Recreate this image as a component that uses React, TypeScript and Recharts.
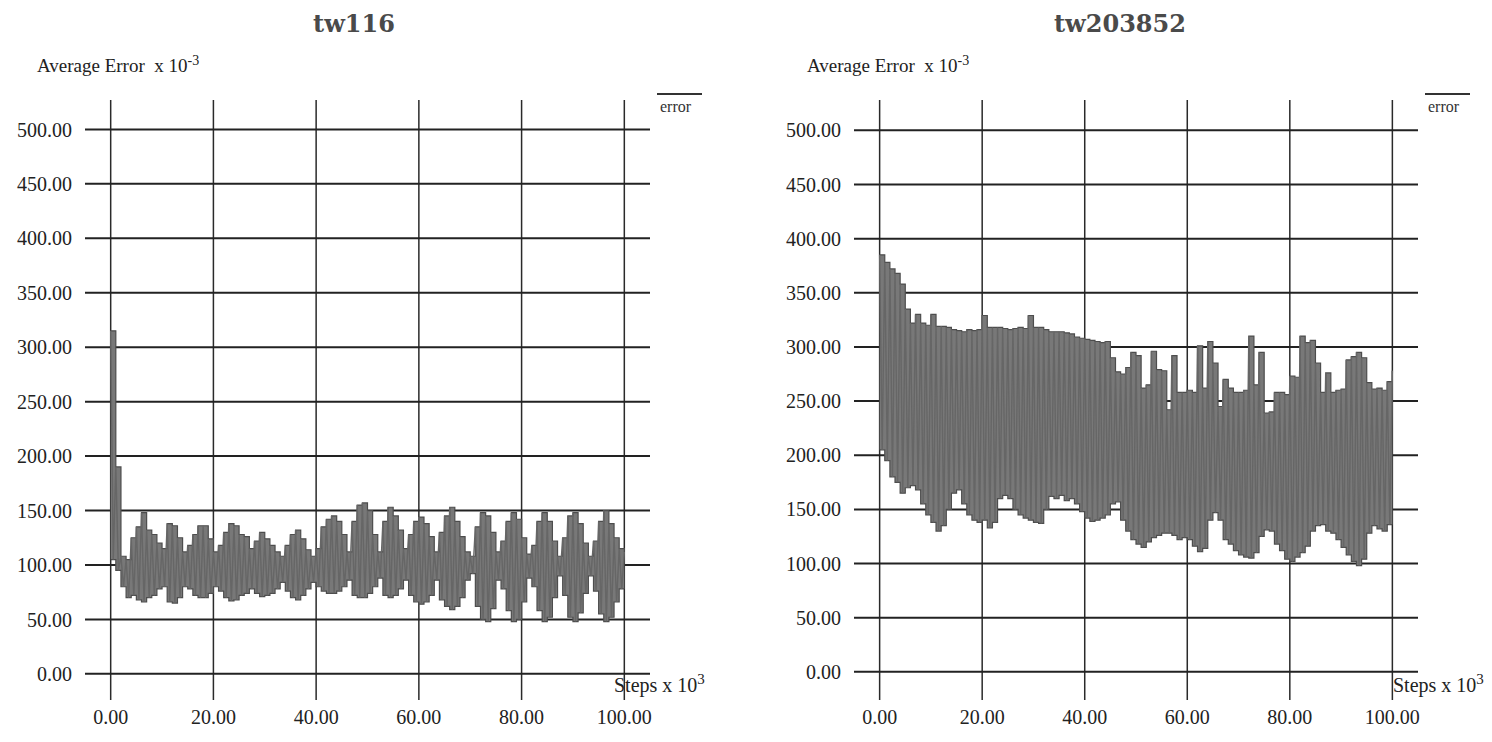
import React from 'react';
import { ComposedChart, Line, Area, XAxis, YAxis, CartesianGrid } from 'recharts';

const STEP_TICKS = [0, 20, 40, 60, 80, 100];
const ERROR_TICKS = [0, 50, 100, 150, 200, 250, 300, 350, 400, 450, 500];

// error x 10^-3: peaks at each whole step (x 10^3), troughs half a step later
const tw116Peaks = [
  315, 190, 108, 105, 125, 135, 148, 132, 128, 120,
  115, 138, 136, 125, 112, 118, 128, 136, 136, 124,
  112, 118, 130, 138, 136, 128, 126, 115, 122, 130,
  124, 118, 112, 108, 118, 128, 132, 124, 114, 108,
  115, 135, 142, 145, 140, 128, 112, 140, 155, 157,
  150, 128, 112, 140, 153, 145, 132, 115, 128, 140,
  144, 138, 126, 112, 130, 145, 153, 140, 126, 112,
  108, 135, 148, 145, 130, 112, 122, 140, 148, 142,
  125, 110, 118, 140, 148, 140, 122, 108, 125, 145,
  148, 138, 120, 108, 122, 140, 150, 138, 125, 115,
  112,
];
const tw116Troughs = [
  105, 95, 80, 70, 72, 68, 66, 70, 72, 78,
  80, 66, 65, 70, 80, 78, 72, 70, 70, 74,
  80, 76, 70, 67, 68, 72, 74, 78, 74, 71,
  72, 74, 78, 84, 76, 70, 68, 72, 78, 84,
  80, 76, 74, 74, 76, 80, 86, 72, 70, 70,
  74, 80, 88, 72, 70, 72, 78, 86, 72, 66,
  64, 66, 72, 86, 68, 62, 59, 62, 70, 86,
  92, 62, 50, 48, 60, 86, 78, 58, 48, 50,
  66, 88, 80, 58, 48, 52, 70, 90, 72, 52,
  48, 56, 74, 90, 76, 55, 48, 52, 66, 78,
];

const tw203852Peaks = [
  385, 378, 372, 368, 358, 335, 322, 330, 322, 320,
  330, 319, 319, 318, 316, 315, 314, 316, 315, 316,
  329, 318, 318, 318, 317, 316, 317, 318, 317, 329,
  318, 318, 316, 314, 314, 314, 313, 312, 309, 308,
  307, 306, 305, 304, 305, 290, 277, 275, 281, 295,
  292, 262, 265, 296, 279, 278, 242, 292, 258, 258,
  260, 258, 301, 262, 305, 285, 245, 270, 262, 258,
  258, 260, 310, 265, 295, 239, 240, 258, 258, 256,
  273, 272, 310, 304, 306, 285, 258, 276, 258, 260,
  261, 288, 291, 295, 290, 267, 261, 262, 260, 268,
  278,
];
const tw203852Troughs = [
  205, 195, 180, 175, 165, 170, 172, 168, 155, 145,
  138, 130, 135, 150, 165, 168, 155, 145, 140, 138,
  140, 133, 138, 160, 163, 160, 150, 145, 142, 140,
  138, 137, 150, 162, 160, 163, 158, 160, 155, 148,
  142, 139, 140, 142, 145, 155, 157, 140, 130, 122,
  118, 115, 120, 124, 126, 128, 128, 126, 122, 124,
  122, 116, 111, 114, 140, 147, 140, 122, 118, 112,
  108, 106, 105, 110, 125, 131, 130, 118, 112, 104,
  102, 106, 110, 116, 130, 135, 136, 130, 128, 122,
  115, 108, 102, 98, 104, 128, 135, 132, 130, 136,
];

type Row = { step: number; error: number; band: [number, number] };

// zigzag line through the peaks/troughs, plus the filled band they enclose
function buildRows(peaks: number[], troughs: number[]): Row[] {
  const rows: Row[] = [];
  peaks.forEach((p, i) => {
    const lo = troughs[Math.min(i, troughs.length - 1)];
    rows.push({ step: i, error: p, band: [lo, p] });
    if (i < troughs.length) rows.push({ step: i + 0.5, error: troughs[i], band: [lo, p] });
  });
  return rows;
}

const serif = '"Liberation Serif", "Times New Roman", serif';
const tickStyle = { fontFamily: serif, fontSize: 20, fill: '#222' };

interface PanelProps {
  title: string;
  data: Row[];
  left: number;
  width: number;
  plotLeft: number;
  plotRight: number;
  yDomain: [number, number];
  titleX: number;
  stepsX: number;
}

function Panel({ title, data, left, width, plotLeft, plotRight, yDomain, titleX, stepsX }: PanelProps) {
  return (
    <div style={{ position: 'absolute', left, top: 0, width, height: 742 }}>
      <div
        style={{
          position: 'absolute', left: titleX - 120, width: 240, top: 9, textAlign: 'center',
          fontFamily: '"DejaVu Serif", serif', fontWeight: 'bold', fontSize: 24, color: '#4a4a4a',
        }}
      >
        {title}
      </div>
      <div style={{ position: 'absolute', left: 37, top: 53, fontFamily: serif, fontSize: 19, color: '#222', whiteSpace: 'nowrap' }}>
        Average Error&nbsp; x 10<sup style={{ fontSize: 14 }}>-3</sup>
      </div>
      <div style={{ position: 'absolute', left: plotRight + 7, top: 93, width: 45, height: 2, background: '#333' }} />
      <div style={{ position: 'absolute', left: plotRight + 10, top: 98, fontFamily: serif, fontSize: 16, color: '#333' }}>
        error
      </div>
      <div style={{ position: 'absolute', left: stepsX, top: 671, fontFamily: serif, fontSize: 20, color: '#222', whiteSpace: 'nowrap' }}>
        Steps x 10<sup style={{ fontSize: 15 }}>3</sup>
      </div>
      <ComposedChart width={width} height={742} data={data} margin={{ top: 100, right: width - plotRight, bottom: 12, left: 0 }}>
        <CartesianGrid
          horizontal={false}
          vertical
          verticalValues={STEP_TICKS}
          stroke="#2a2a2a"
          strokeWidth={1.5}
          strokeOpacity={1}
        />
        <CartesianGrid
          horizontal
          vertical={false}
          horizontalValues={ERROR_TICKS}
          stroke="#222"
          strokeWidth={2}
          strokeOpacity={1}
        />
        <XAxis
          dataKey="step"
          type="number"
          domain={[-5, 105]}
          ticks={STEP_TICKS}
          interval={0}
          allowDataOverflow
          axisLine={false}
          tickLine={false}
          tickSize={0}
          tickMargin={10}
          height={30}
          tick={tickStyle}
          tickFormatter={(v: number) => v.toFixed(2)}
        />
        <YAxis
          type="number"
          domain={yDomain}
          ticks={ERROR_TICKS}
          interval={0}
          allowDataOverflow
          axisLine={false}
          tickLine={false}
          tickSize={0}
          tickMargin={13}
          width={plotLeft}
          tick={tickStyle}
          tickFormatter={(v: number) => v.toFixed(2)}
        />
        <Area
          type="stepAfter"
          dataKey="band"
          fill="#787878"
          fillOpacity={1}
          stroke="#4d4d4d"
          strokeWidth={1.2}
          dot={false}
          activeDot={false}
          isAnimationActive={false}
        />
        <Line
          type="linear"
          dataKey="error"
          stroke="#666"
          strokeWidth={1.4}
          dot={false}
          activeDot={false}
          isAnimationActive={false}
        />
      </ComposedChart>
    </div>
  );
}

export default function App() {
  return (
    <div style={{ position: 'absolute', left: 0, top: 0, width: 1492, height: 742, background: '#fff' }}>
      <Panel
        title="tw116"
        data={buildRows(tw116Peaks, tw116Troughs)}
        left={0}
        width={740}
        plotLeft={85}
        plotRight={650}
        yDomain={[-24, 527]}
        titleX={354}
        stepsX={614}
      />
      <Panel
        title="tw203852"
        data={buildRows(tw203852Peaks, tw203852Troughs)}
        left={770}
        width={722}
        plotLeft={84}
        plotRight={648}
        yDomain={[-26, 528]}
        titleX={350}
        stepsX={623}
      />
    </div>
  );
}
